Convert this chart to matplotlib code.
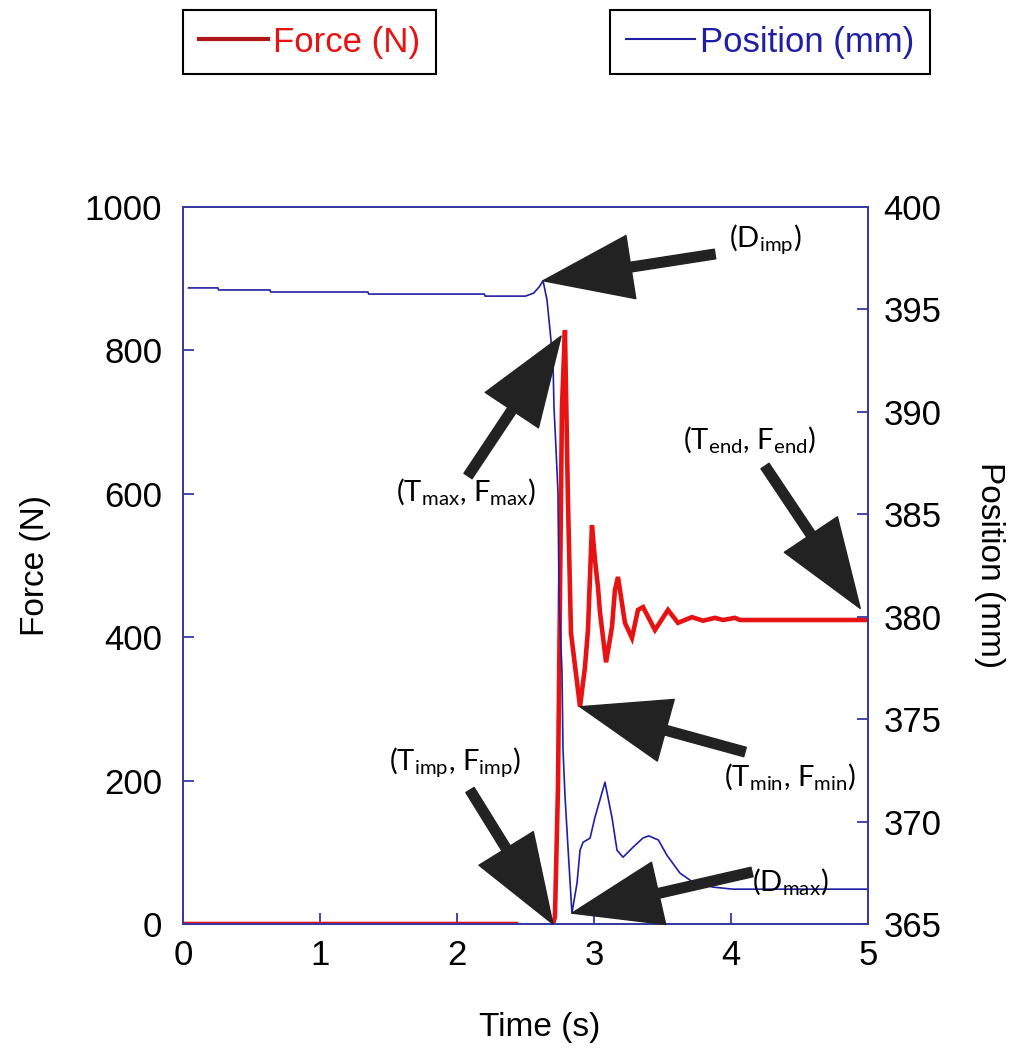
import numpy as np
import matplotlib
matplotlib.use("Agg")
import matplotlib.pyplot as plt
from matplotlib.lines import Line2D

plt.rcParams["font.family"] = ["Liberation Sans", "DejaVu Sans"]
plt.rcParams["mathtext.fontset"] = "custom"
plt.rcParams["mathtext.rm"] = "Lato"

# Force trace (N); NaN marks the dropout before the impact
force_time = [0.0, 2.43, 2.50, 2.70, 2.715, 2.737, 2.766, 2.788, 2.810, 2.832,
              2.898, 2.934, 2.956, 2.985, 3.007, 3.029, 3.044, 3.088, 3.131,
              3.153, 3.175, 3.226, 3.277, 3.321, 3.358, 3.445, 3.540, 3.613,
              3.715, 3.796, 3.883, 3.942, 4.029, 4.066, 5.0]
force_val = [0, 0, np.nan, 0, 10, 190, 720, 828, 590, 406,
             303, 358, 410, 556, 508, 470, 434, 365, 414,
             466, 484, 420, 399, 438, 442, 410, 438, 420,
             428, 423, 427, 424, 427, 424, 424]

# Position trace (mm)
pos_time = [0.04, 0.255, 0.26, 0.635, 0.64, 1.35, 1.355, 2.20, 2.205, 2.50,
            2.56, 2.60, 2.628, 2.657, 2.679, 2.701, 2.708, 2.723, 2.737,
            2.745, 2.766, 2.774, 2.788, 2.810, 2.839, 2.876, 2.898, 2.920,
            2.971, 3.007, 3.080, 3.131, 3.168, 3.212, 3.285, 3.358, 3.40,
            3.47, 3.533, 3.628, 3.723, 3.869, 4.015, 5.0]
pos_val = [396.05, 396.05, 395.95, 395.95, 395.85, 395.85, 395.75, 395.75,
           395.65, 395.65, 395.8, 396.1, 396.4, 395.46, 393.99, 392.38,
           390.23, 388.14, 386.04, 380.81, 377.39, 373.49, 371.29, 368.75,
           365.53, 366.99, 368.60, 368.99, 369.19, 370.21, 371.92, 370.21,
           368.60, 368.26, 368.75, 369.2, 369.3, 369.1, 368.35, 367.48,
           367.04, 366.80, 366.70, 366.70]

time_ticks = [0, 1, 2, 3, 4, 5]
force_ticks = [0, 200, 400, 600, 800, 1000]
pos_ticks = [365, 370, 375, 380, 385, 390, 395, 400]

W, H = 1016, 1051
FRAME = "#3838a4"
FORCE_C = "#e81212"
POS_C = "#1f1fa6"
ARROW_C = "#222222"


def px(x, y):
    """Pixel position (from the top-left corner) as a figure fraction."""
    return x / W, 1 - y / H


fig = plt.figure(figsize=(W / 100, H / 100), dpi=100)
ax = fig.add_axes([183 / W, 1 - 924 / H, 685 / W, 717 / H])
ax2 = ax.twinx()

ax.plot(force_time, force_val, color=FORCE_C, lw=3.3, solid_joinstyle="miter")
ax2.plot(pos_time, pos_val, color=POS_C, lw=1.2)

ax.set_xlim(0, 5)
ax.set_ylim(0, 1000)
ax2.set_ylim(365, 400)
ax.set_xticks(time_ticks)
ax.set_yticks(force_ticks)
ax2.set_yticks(pos_ticks)

for a in (ax, ax2):
    for sp in a.spines.values():
        sp.set_color(FRAME)
        sp.set_linewidth(1.3)
ax.tick_params(axis="both", direction="in", length=8, width=1.3, color=FRAME,
               labelsize=25, pad=11)
ax.tick_params(axis="y", pad=15)
ax2.tick_params(axis="y", direction="in", length=8, width=1.3, color=FRAME,
                labelsize=25, pad=11)

ax.set_xlabel("Time (s)", fontsize=24)
ax.set_ylabel("Force (N)", fontsize=24)
ax2.set_ylabel("Position (mm)", fontsize=24, rotation=-90)
ax.xaxis.set_label_coords(0.52, -0.144)
ax.yaxis.set_label_coords(-0.216, 0.5)
ax2.yaxis.set_label_coords(1.178, 0.5)
for lab in (ax.xaxis.label, ax.yaxis.label, ax2.yaxis.label):
    lab.set_verticalalignment("center")

# Legends: one framed box per trace above the plot
leg_kw = dict(loc="upper left", bbox_transform=fig.transFigure, fancybox=False,
              edgecolor="black", framealpha=1, borderaxespad=0, fontsize=25,
              handlelength=2.0, handletextpad=0.15, borderpad=0.45)
leg1 = fig.legend(handles=[Line2D([], [], color="#b01818", lw=3)],
                  labels=["Force (N)"], bbox_to_anchor=px(183, 10),
                  labelcolor=FORCE_C, **leg_kw)
leg2 = fig.legend(handles=[Line2D([], [], color=POS_C, lw=1.5)],
                  labels=["Position (mm)"], bbox_to_anchor=px(610, 10),
                  labelcolor=POS_C, **leg_kw)
for lg in (leg1, leg2):
    lg.get_frame().set_linewidth(1.5)

# Characteristic points picked off the traces
f = np.array(force_val, dtype=float)
p = np.array(pos_val)
i_max = int(np.nanargmax(f))
i_min = i_max + int(np.nanargmin(f[i_max:]))
i_imp = max(i for i in range(i_max) if f[i] == 0)
i_end = len(f) - 1
i_dimp = int(np.argmax(p))
i_dmax = int(np.argmin(p))

T = ax.transData
T2 = ax2.transData
marks = [
    (r"(D$_{\mathregular{imp}}$)", (pos_time[i_dimp], pos_val[i_dimp]), T2,
     (765, 240), (715, 254), 0),
    (r"(T$_{\mathregular{max}}$, F$_{\mathregular{max}}$)",
     (force_time[i_max], force_val[i_max]), T, (466, 492), (468, 476), 5),
    (r"(T$_{\mathregular{end}}$, F$_{\mathregular{end}}$)",
     (force_time[i_end], force_val[i_end]), T, (750, 440), (765, 466), 10),
    (r"(T$_{\mathregular{min}}$, F$_{\mathregular{min}}$)",
     (force_time[i_min], force_val[i_min]), T, (790, 777), (745, 752), 0),
    (r"(T$_{\mathregular{imp}}$, F$_{\mathregular{imp}}$)",
     (force_time[i_imp], force_val[i_imp]), T, (455, 763), (470, 790), 0),
    (r"(D$_{\mathregular{max}}$)", (pos_time[i_dmax], pos_val[i_dmax]), T2,
     (790, 882), (752, 872), 0),
]
for text, tip, trans, text_px, tail_px, shrink in marks:
    ax2.annotate("", xy=tip, xycoords=trans, xytext=px(*tail_px),
                 textcoords="figure fraction",
                 arrowprops=dict(arrowstyle="simple,head_length=6.4,"
                                 "head_width=4.6,tail_width=0.7",
                                 mutation_scale=10, fc=ARROW_C, ec=ARROW_C,
                                 shrinkA=0, shrinkB=shrink),
                 annotation_clip=False, zorder=5)
    fig.text(*px(*text_px), text, fontsize=21, family="Lato",
             ha="center", va="center")

fig.savefig("out.png", dpi=100)
